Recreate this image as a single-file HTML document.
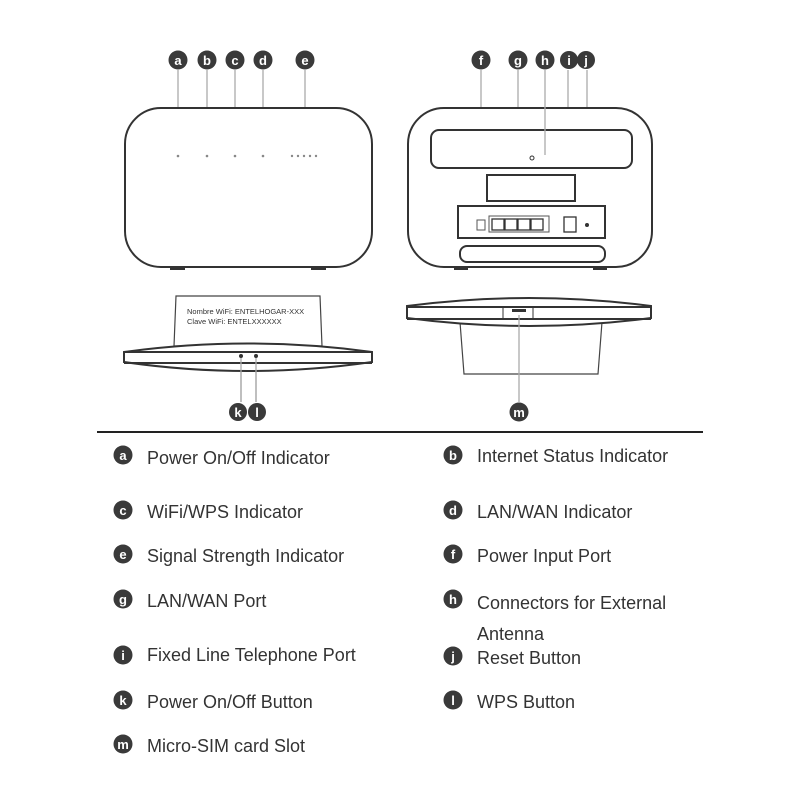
<!DOCTYPE html>
<html><head><meta charset="utf-8"><style>
body{margin:0;background:#fff}
svg{display:block}
text{font-family:"Liberation Sans",sans-serif}
.t{font-size:18px;fill:#333}
.c{fill:#3a3a3a}
.cl{font-size:13px;font-weight:bold;fill:#fff;text-anchor:middle}
.ln{stroke:#aaa;stroke-width:1.3}
</style></head><body>
<svg width="800" height="800" viewBox="0 0 800 800">
<g>
<line class="ln" x1="178" y1="70" x2="178" y2="150"/>
<line class="ln" x1="207" y1="70" x2="207" y2="150"/>
<line class="ln" x1="235" y1="70" x2="235" y2="150"/>
<line class="ln" x1="263" y1="70" x2="263" y2="150"/>
<line class="ln" x1="305" y1="70" x2="305" y2="152"/>
<line class="ln" x1="481" y1="70" x2="481" y2="222"/>
<line class="ln" x1="518" y1="70" x2="518" y2="216"/>
<line class="ln" x1="568" y1="70" x2="568" y2="222"/>
<line class="ln" x1="587" y1="70" x2="587" y2="222"/>
<line class="ln" x1="241" y1="355" x2="241" y2="402"/>
<line class="ln" x1="256" y1="355" x2="256" y2="402"/>
</g>
<g>
<circle cx="178" cy="60" r="9.5" class="c"/><text x="178" y="65" class="cl">a</text>
<circle cx="207" cy="60" r="9.5" class="c"/><text x="207" y="65" class="cl">b</text>
<circle cx="235" cy="60" r="9.5" class="c"/><text x="235" y="65" class="cl">c</text>
<circle cx="263" cy="60" r="9.5" class="c"/><text x="263" y="65" class="cl">d</text>
<circle cx="305" cy="60" r="9.5" class="c"/><text x="305" y="65" class="cl">e</text>
<circle cx="481" cy="60" r="9.5" class="c"/><text x="481" y="65" class="cl">f</text>
<circle cx="518" cy="60" r="9.5" class="c"/><text x="518" y="65" class="cl">g</text>
<circle cx="545" cy="60" r="9.5" class="c"/><text x="545" y="65" class="cl">h</text>
<circle cx="569" cy="60" r="9" class="c"/><text x="569" y="65" class="cl">i</text>
<circle cx="586" cy="60" r="9" class="c"/><text x="586" y="65" class="cl">j</text>
<circle cx="238" cy="412" r="9" class="c"/><text x="238" y="417" class="cl">k</text>
<circle cx="257" cy="412" r="9" class="c"/><text x="257" y="417" class="cl">l</text>
<circle cx="519" cy="412" r="9.5" class="c"/><text x="519" y="417" class="cl">m</text>
</g>
<rect x="125" y="108" width="247" height="159" rx="36" fill="#fff" stroke="#333" stroke-width="2"/>
<rect x="170" y="266" width="15" height="4" fill="#333"/><rect x="311" y="266" width="15" height="4" fill="#333"/>
<g fill="#888"><circle cx="178" cy="156" r="1.3"/><circle cx="207" cy="156" r="1.3"/><circle cx="235" cy="156" r="1.3"/><circle cx="263" cy="156" r="1.3"/>
<circle cx="292" cy="156" r="1.2"/><circle cx="298" cy="156" r="1.2"/><circle cx="304" cy="156" r="1.2"/><circle cx="310" cy="156" r="1.2"/><circle cx="316" cy="156" r="1.2"/></g>
<rect x="408" y="108" width="244" height="159" rx="36" fill="#fff" stroke="#333" stroke-width="2"/>
<rect x="454" y="266" width="14" height="4" fill="#333"/><rect x="593" y="266" width="14" height="4" fill="#333"/>
<rect x="431" y="130" width="201" height="38" rx="8" fill="none" stroke="#333" stroke-width="2"/>
<line class="ln" x1="545" y1="70" x2="545" y2="155"/>
<circle cx="532" cy="158" r="2" fill="none" stroke="#333"/>
<rect x="487" y="175" width="88" height="26" fill="none" stroke="#333" stroke-width="2"/>
<rect x="458" y="206" width="147" height="32" fill="none" stroke="#333" stroke-width="2"/>
<rect x="477" y="220" width="8" height="10" fill="none" stroke="#555"/>
<rect x="489" y="216" width="60" height="16" fill="none" stroke="#555"/>
<g fill="none" stroke="#333" stroke-width="1.3"><rect x="492" y="219" width="12" height="11"/><rect x="505" y="219" width="12" height="11"/><rect x="518" y="219" width="12" height="11"/><rect x="531" y="219" width="12" height="11"/>
<rect x="564" y="217" width="12" height="15"/></g>
<circle cx="587" cy="225" r="2" fill="#333"/>
<rect x="460" y="246" width="145" height="16" rx="7" fill="none" stroke="#333" stroke-width="2"/>
<path d="M176 296 L320 296 L322 346 L174 346 Z" fill="#fff" stroke="#444" stroke-width="1.2"/>
<text x="187" y="314" font-size="7.5" fill="#333">Nombre WiFi: ENTELHOGAR-XXX</text>
<text x="187" y="324" font-size="7.5" fill="#333">Clave WiFi: ENTELXXXXXX</text>
<path d="M124 352 Q248 335 372 352 L372 362 Q248 380 124 362 Z" fill="#fff" stroke="#333" stroke-width="2"/>
<line x1="124" y1="352" x2="372" y2="352" stroke="#333" stroke-width="2"/>
<line x1="124" y1="363" x2="372" y2="363" stroke="#333" stroke-width="2"/>
<circle cx="241" cy="356" r="2" fill="#333"/><circle cx="256" cy="356" r="2" fill="#333"/>
<line class="ln" x1="241" y1="358" x2="241" y2="402"/>
<line class="ln" x1="256" y1="358" x2="256" y2="402"/>
<path d="M460 322 L602 322 L598 374 L464 374 Z" fill="#fff" stroke="#444" stroke-width="1.2"/>
<path d="M407 306 Q529 290 651 306 L651 318 Q529 334 407 318 Z" fill="#fff" stroke="#333" stroke-width="2"/>
<line x1="407" y1="307" x2="651" y2="307" stroke="#333" stroke-width="2"/>
<line x1="407" y1="319" x2="651" y2="319" stroke="#333" stroke-width="2"/>
<line x1="503" y1="307" x2="503" y2="319" stroke="#333"/><line x1="533" y1="307" x2="533" y2="319" stroke="#333"/>
<rect x="512" y="309" width="14" height="3" fill="#333"/>
<line class="ln" x1="519" y1="315" x2="519" y2="402"/>
<line x1="97" y1="432" x2="703" y2="432" stroke="#222" stroke-width="2"/>
<g>
<circle cx="123" cy="455" r="9.5" class="c"/><text x="123" y="460" class="cl">a</text><text x="147" y="464" class="t">Power On/Off Indicator</text>
<circle cx="453" cy="455" r="9.5" class="c"/><text x="453" y="460" class="cl">b</text><text x="477" y="462" class="t">Internet Status Indicator</text>
<circle cx="123" cy="510" r="9.5" class="c"/><text x="123" y="515" class="cl">c</text><text x="147" y="518" class="t">WiFi/WPS Indicator</text>
<circle cx="453" cy="510" r="9.5" class="c"/><text x="453" y="515" class="cl">d</text><text x="477" y="518" class="t">LAN/WAN Indicator</text>
<circle cx="123" cy="554" r="9.5" class="c"/><text x="123" y="559" class="cl">e</text><text x="147" y="562" class="t">Signal Strength Indicator</text>
<circle cx="453" cy="554" r="9.5" class="c"/><text x="453" y="559" class="cl">f</text><text x="477" y="562" class="t">Power Input Port</text>
<circle cx="123" cy="599" r="9.5" class="c"/><text x="123" y="604" class="cl">g</text><text x="147" y="607" class="t">LAN/WAN Port</text>
<circle cx="453" cy="599" r="9.5" class="c"/><text x="453" y="604" class="cl">h</text><text x="477" y="609" class="t">Connectors for External</text>
<text x="477" y="640" class="t">Antenna</text>
<circle cx="123" cy="655" r="9.5" class="c"/><text x="123" y="660" class="cl">i</text><text x="147" y="661" class="t">Fixed Line Telephone Port</text>
<circle cx="453" cy="656" r="9.5" class="c"/><text x="453" y="661" class="cl">j</text><text x="477" y="664" class="t">Reset Button</text>
<circle cx="123" cy="700" r="9.5" class="c"/><text x="123" y="705" class="cl">k</text><text x="147" y="708" class="t">Power On/Off Button</text>
<circle cx="453" cy="700" r="9.5" class="c"/><text x="453" y="705" class="cl">l</text><text x="477" y="708" class="t">WPS Button</text>
<circle cx="123" cy="744" r="9.5" class="c"/><text x="123" y="749" class="cl">m</text><text x="147" y="752" class="t">Micro-SIM card Slot</text>
</g>
</svg>
</body></html>
